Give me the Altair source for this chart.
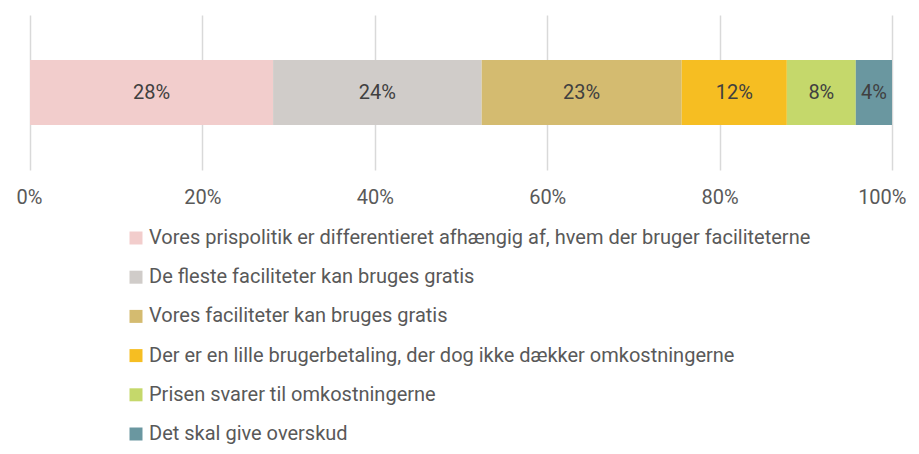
import altair as alt
import pandas as pd

categories = [
    "Vores prispolitik er differentieret afhængig af, hvem der bruger faciliteterne",
    "De fleste faciliteter kan bruges gratis",
    "Vores faciliteter kan bruges gratis",
    "Der er en lille brugerbetaling, der dog ikke dækker omkostningerne",
    "Prisen svarer til omkostningerne",
    "Det skal give overskud",
]
values = [28.2, 24.2, 23.2, 12.2, 8.0, 4.2]
labels = ["28%", "24%", "23%", "12%", "8%", "4%"]
colors = ["#F2CDCC", "#D0CCC9", "#D4BB70", "#F6BE22", "#C5D86B", "#6A97A0"]
ticks = [0, 20, 40, 60, 80, 100]

df = pd.DataFrame({
    "cat": categories,
    "val": values,
    "lab": labels,
    "idx": list(range(len(categories))),
    "row": ["r"] * len(categories),
})

FONT = "Roboto"
TXT = "#595959"

x_scale = alt.Scale(domain=[0, 100])

base = alt.Chart(df).transform_window(
    cum="sum(val)", sort=[alt.SortField("idx")], frame=[None, 0]
).transform_calculate(
    start="datum.cum - datum.val", mid="datum.cum - datum.val/2"
)

bars = base.mark_bar(size=65).encode(
    x=alt.X("start:Q", scale=x_scale,
            axis=alt.Axis(values=ticks, labelExpr="datum.value + '%'", title=None,
                          grid=True, gridColor="#D9D9D9", gridWidth=1.5,
                          domain=False, ticks=False, labelFontSize=20,
                          labelFlush=True, labelFlushOffset=14, labelOverlap=False,
                          labelColor=TXT, labelFont=FONT, labelPadding=17)),
    x2="cum:Q",
    y=alt.Y("row:N", axis=None),
    color=alt.Color("cat:N", scale=alt.Scale(domain=categories, range=colors),
                    legend=alt.Legend(title=None, orient="none", legendX=96, legendY=213,
                                      symbolType="square", symbolSize=169,
                                      symbolStrokeWidth=0, labelFontSize=20,
                                      labelColor=TXT, labelFont=FONT, labelLimit=900,
                                      rowPadding=19.2, labelOffset=3, direction="vertical")),
)

text = base.mark_text(fontSize=20, color="#404040", font=FONT).encode(
    x=alt.X("mid:Q", scale=x_scale),
    y=alt.Y("row:N", axis=None),
    text="lab:N",
)

chart = (bars + text).properties(
    width=862, height=155,
    autosize=alt.AutoSizeParams(type="none"),
    padding={"left": 22, "top": 7, "right": 19, "bottom": 276},
).configure_view(stroke=None)

chart.save("out.html", embed_options={"renderer": "svg", "actions": False})
